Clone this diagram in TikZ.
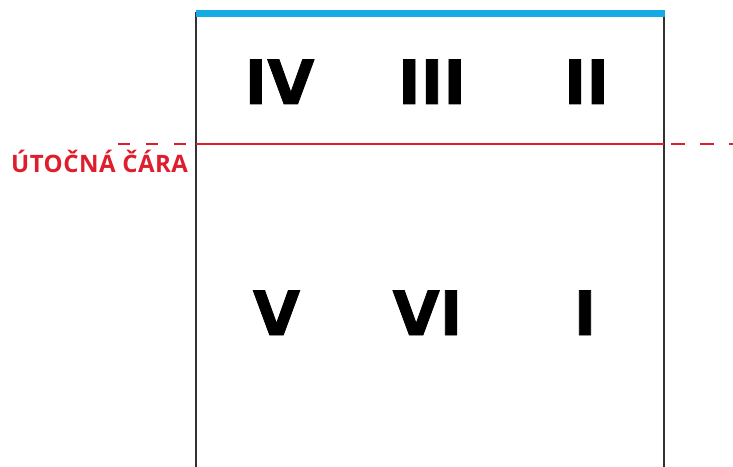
\documentclass[tikz,border=0pt]{standalone}
\usepackage{fontspec}
\newfontfamily\numfont[FakeBold=1.2]{DejaVu Sans Bold}
\newfontfamily\labelfont[LetterSpace=2]{Open Sans}
\definecolor{courtred}{RGB}{222,30,45}
\definecolor{courtblue}{RGB}{20,170,228}
\definecolor{courtgray}{RGB}{50,50,50}
\begin{document}
\begin{tikzpicture}[x=1pt,y=1pt,
  numeral/.style={font=\numfont\fontsize{61}{61}\selectfont, inner sep=0pt, anchor=base, text=black},
  zonelabel/.style={font=\labelfont\bfseries\fontsize{24}{24}\selectfont, inner sep=0pt, anchor=base west, text=courtred},
  sideline/.style={draw=courtgray, line width=1.5pt},
  endline/.style={draw=courtblue, line width=7pt},
  attackline/.style={draw=courtred, line width=2pt},
  attackdash/.style={draw=courtred, line width=2pt, dash pattern=on 12pt off 16pt}]
\useasboundingbox (0,0) rectangle (733,466);
\fill[white] (0,0) rectangle (733,466);
% frame coordinates
\coordinate (tl) at (196,452.5);
\coordinate (tr) at (664.5,452.5);
\coordinate (bl) at (196,-2);
\coordinate (br) at (664,-2);
\coordinate (al) at (196,322);
\coordinate (ar) at (664,322);
\coordinate (dl0) at (118,322);
\coordinate (dl1) at (192,322);
\coordinate (dr0) at (671,322);
\coordinate (dr1) at (735,322);
\draw[sideline] (196,454) -- (bl);
\draw[sideline] (664,454) -- (br);
\draw[endline] (tl) -- (tr);
\draw[attackline] (al) -- (ar);
\draw[attackdash] (dl0) -- (dl1);
\draw[attackdash, dash pattern=on 14pt off 15pt] (dr0) -- (dr1);
% zone numbers
\node[numeral] (z4) at (279.5,362) {IV};
\node[numeral] (z3) at (432,362) {III};
\node[numeral] (z2) at (586.5,362) {II};
\node[numeral] (z5) at (276.5,131) {V};
\node[numeral] (z6) at (427.5,131) {VI};
\node[numeral] (z1) at (585,131) {I};
% label
\node[zonelabel] (lbl) at (11,293.5) {ÚTOČNÁ ČÁRA};
\end{tikzpicture}
\end{document}
